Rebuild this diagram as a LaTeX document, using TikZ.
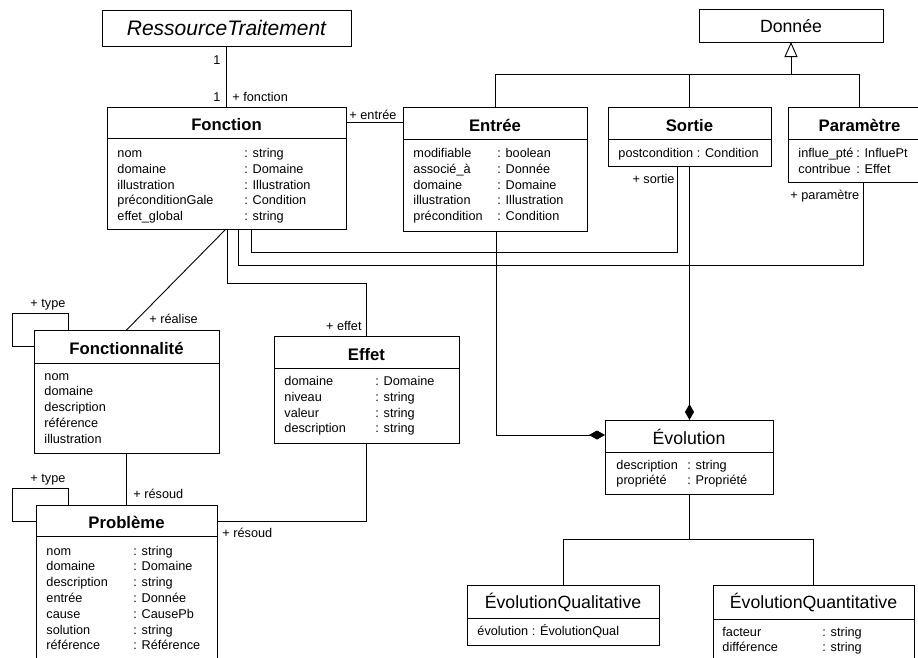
\documentclass[tikz,border=0pt]{standalone}
\usepackage{fontspec}
\setmainfont{Liberation Sans}
\usetikzlibrary{arrows.meta,calc}
\newcommand\umlbox[6]{%
  \node[box, minimum width=#4pt, minimum height=#5pt] (#1) at (#2,#3) {};
  \draw ($(#1.north west)+(0,#6)$) -- ($(#1.north east)+(0,#6)$);
}
\newcommand\attrs[2]{\begin{tabular}[t]{@{}p{#1pt}@{}l@{}}#2\end{tabular}}
\begin{document}
\begin{tikzpicture}[x=1pt,y=-1pt, line width=0.9pt,
  box/.style={draw, inner sep=0pt, outer sep=0pt, anchor=north west},
  ttl/.style={font=\fontsize{16.7}{18}\selectfont\bfseries, anchor=base, inner sep=0pt},
  ttlr/.style={font=\fontsize{17.7}{19}\selectfont, anchor=base, inner sep=0pt},
  att/.style={font=\fontsize{12.7}{15.8}\selectfont, anchor=base west, inner sep=0pt},
  lbl/.style={font=\fontsize{12.7}{14}\selectfont, inner sep=0pt},
  comp/.style={-{Diamond[length=16pt,width=9pt]}},
  gen/.style={-{Triangle[open,length=15pt,width=13pt,fill=white]}}
]
\useasboundingbox (0,0) rectangle (918,657);
\clip (0,0) rectangle (918,657);
\fill[white] (0,0) rectangle (918,657);

% ---- boxes ----
\node[box, minimum width=249pt, minimum height=36pt] (rt) at (102,10) {};
\node[box, minimum width=184pt, minimum height=33pt] (don) at (699,9) {};
\umlbox{fon}{107}{107}{239}{122}{31}
\umlbox{ent}{403}{107}{184}{124}{32}
\umlbox{sor}{608}{107}{163}{59}{32}
\umlbox{par}{788}{107}{143}{75}{32}
\umlbox{fct}{34}{330}{185}{123}{33}
\umlbox{eff}{274}{336}{185}{107}{32}
\umlbox{pro}{36}{505}{181}{170}{31}
\umlbox{evo}{605}{420}{168}{74}{32}
\umlbox{eql}{467}{585}{192}{60}{33}
\umlbox{eqt}{713}{585}{201}{100}{34}

% ---- titles ----
\node[font=\fontsize{21}{23}\selectfont\itshape, anchor=base, inner sep=0pt] (rtT) at (226.5,35.5) {RessourceTraitement};
\node[ttlr] (donT) at (791,32) {Donnée};
\node[ttl] (fonT) at (226.5,130.5) {Fonction};
\node[ttl] (entT) at (495,131.5) {Entrée};
\node[ttl] (sorT) at (689.5,131.5) {Sortie};
\node[ttl] (parT) at (859.5,131.5) {Paramètre};
\node[ttl] (fctT) at (126.5,354) {Fonctionnalité};
\node[ttl] (effT) at (366.5,360) {Effet};
\node[ttl] (proT) at (126.5,528) {Problème};
\node[ttlr] (evoT) at (689,444.5) {Évolution};
\node[ttlr] (eqlT) at (563,608) {ÉvolutionQualitative};
\node[ttlr] (eqtT) at (813.5,608) {ÉvolutionQuantitative};

% ---- attributes ----
\node[att] (fonA) at (117,157.5) {\attrs{127}{nom & : string\\ domaine & : Domaine\\ illustration & : Illustration\\ préconditionGale & : Condition\\ effet\_global & : string}};
\node[att] (entA) at (413,157.5) {\attrs{84}{modifiable & : boolean\\ associé\_à & : Donnée\\ domaine & : Domaine\\ illustration & : Illustration\\ précondition & : Condition}};
\node[att] (sorA) at (618,157) {postcondition : Condition};
\node[att] (parA) at (798,157.5) {\attrs{58}{influe\_pté & : InfluePt\\ contribue & : Effet}};
\node[att] (fctA) at (44,380) {\attrs{120}{nom & \\ domaine & \\ description & \\ référence & \\ illustration & }};
\node[att] (effA) at (284,385.5) {\attrs{91}{domaine & : Domaine\\ niveau & : string\\ valeur & : string\\ description & : string}};
\node[att] (proA) at (46,555) {\attrs{87}{nom & : string\\ domaine & : Domaine\\ description & : string\\ entrée & : Donnée\\ cause & : CausePb\\ solution & : string\\ référence & : Référence}};
\node[att] (evoA) at (616,469) {\attrs{71}{description & : string\\ propriété & : Propriété}};
\node[att] (eqlA) at (477,635) {évolution : ÉvolutionQual};
\node[att] (eqtA) at (722,636) {\attrs{100}{facteur & : string\\ différence & : string}};

% ---- generalisation Donnée ----
\coordinate (gj) at ($(don.south)+(0,32)$);
\draw[gen] (gj) -- (don.south);
\draw (ent.north) |- (gj);
\draw (par.north) |- (gj);
\draw (sor.north) -- (sor.north |- gj);

% ---- generalisation Évolution ----
\coordinate (ej) at ($(evo.south)+(0,45)$);
\draw (evo.south) -- (ej);
\draw (eql.north) |- (ej);
\draw (eqt.north) |- (ej);

% ---- associations ----
\draw (rt.south) -- (fon.north);
\draw ($(fon.north east)+(0,15)$) -- ($(ent.north west)+(0,15)$);
\draw ($(sor.south west)+(69,0)$) -- ++(0,86) -| ($(fon.south west)+(144,0)$);
\draw ($(par.south west)+(75,0)$) -- ++(0,83) -| ($(fon.south west)+(131,0)$);
\draw ($(fon.south west)+(120,0)$) -- ++(0,54) -| (eff.north);
\draw ($(fon.south west)+(119,0)$) -- (fct.north);
\draw ($(fct.north west)+(0,16)$) -- ++(-22,0) |- ($(fct.north west)+(34,-17)$) -- ($(fct.north west)+(34,0)$);
\draw ($(pro.north west)+(0,16)$) -- ++(-24,0) |- ($(pro.north west)+(32,-17)$) -- ($(pro.north west)+(32,0)$);
\draw (fct.south) -- (pro.north);
\draw (eff.south) |- ($(pro.north east)+(0,16)$);
\draw[comp] ($(ent.south west)+(93,0)$) |- ($(evo.north west)+(0,15)$);
\draw[comp] (sor.south) -- (sor.south |- evo.north);

% ---- labels ----
\node[lbl, anchor=base east] (m1) at (221,64) {1};
\node[lbl, anchor=base east] (m2) at (221,101) {1};
\node[lbl, anchor=base west] (lfon) at (232,101) {+ fonction};
\node[lbl, anchor=base west] (lent) at (349,119.5) {+ entrée};
\node[lbl, anchor=base east] (lsor) at (675,183) {+ sortie};
\node[lbl, anchor=base west] (lpar) at (790,199) {+ paramètre};
\node[lbl, anchor=base east] (leff) at (362,330) {+ effet};
\node[lbl, anchor=base west] (lrea) at (149,323) {+ réalise};
\node[lbl, anchor=base west] (lty1) at (30,307) {+ type};
\node[lbl, anchor=base west] (lty2) at (30,482) {+ type};
\node[lbl, anchor=base west] (lres1) at (133,498) {+ résoud};
\node[lbl, anchor=base west] (lres2) at (222,537) {+ résoud};
\end{tikzpicture}
\end{document}
